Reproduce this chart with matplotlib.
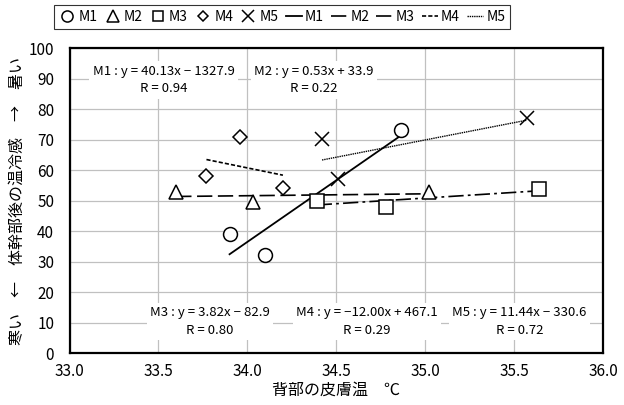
import matplotlib

matplotlib.use("Agg")
import matplotlib.pyplot as plt
import numpy as np

plt.rcParams["font.family"] = ["Noto Sans CJK JP", "DejaVu Sans"]
plt.rcParams["lines.scale_dashes"] = False

# measured data (skin temperature of the back vs. thermal sensation)
m1_x = [33.90, 34.10, 34.865]
m1_y = [39.1, 32.2, 73.2]
m2_x = [33.60, 34.03, 35.02]
m2_y = [52.8, 49.7, 52.9]
m3_x = [34.39, 34.78, 35.64]
m3_y = [50.0, 48.1, 53.9]
m4_x = [33.77, 33.96, 34.20]
m4_y = [58.1, 71.0, 54.1]
m5_x = [34.42, 34.51, 35.57]
m5_y = [70.2, 57.0, 77.0]

names = ["M1", "M2", "M3", "M4", "M5"]
equations = [
    "M1 : y = 40.13x − 1327.9\nR = 0.94",
    "M2 : y = 0.53x + 33.9\nR = 0.22",
    "M3 : y = 3.82x − 82.9\nR = 0.80",
    "M4 : y = −12.00x + 467.1\nR = 0.29",
    "M5 : y = 11.44x − 330.6\nR = 0.72",
]
eq_pos = [(33.53, 89.6), (34.375, 89.6), (33.79, 10.5), (34.673, 10.5), (35.53, 10.5)]

xs = [m1_x, m2_x, m3_x, m4_x, m5_x]
ys = [m1_y, m2_y, m3_y, m4_y, m5_y]
markers = [("o", 10), ("^", 10), ("s", 9.5), ("D", 7), ("x", 10)]
trend_styles = [
    ("-", 1.3),
    ((0, (11, 4)), 1.2),
    ((0, (11, 3, 2, 3)), 1.2),
    ((0, (3, 1.5)), 1.2),
    ((0, (1, 0.6)), 1.0),
]

fig = plt.figure(figsize=(6.24, 4.05), dpi=100)
ax = fig.add_axes([0.1114, 0.1277, 0.855, 0.753])

handles = []
for name, x, y, (m, ms) in zip(names, xs, ys, markers):
    h, = ax.plot(x, y, linestyle="none", marker=m, markersize=ms,
                 markerfacecolor="white", markeredgecolor="black",
                 markeredgewidth=1.1, label=name, zorder=4)
    handles.append(h)

for name, x, y, (ls, lw) in zip(names, xs, ys, trend_styles):
    k, b = np.polyfit(x, y, 1)
    xx = np.array([min(x), max(x)])
    h, = ax.plot(xx, k * xx + b, color="black", linestyle=ls, linewidth=lw,
                 label=name, zorder=3)
    handles.append(h)

for txt, (tx, ty) in zip(equations, eq_pos):
    ax.text(tx, ty, txt, ha="center", va="center", fontsize=9.5,
            linespacing=1.45, multialignment="center", zorder=5,
            bbox=dict(facecolor="white", edgecolor="none", pad=2.5))

ax.set_xlim(33.0, 36.0)
ax.set_ylim(0, 100)
ax.set_xticks(np.arange(33.0, 36.01, 0.5))
ax.set_xticklabels([f"{v:.1f}" for v in np.arange(33.0, 36.01, 0.5)])
ax.set_yticks(np.arange(0, 101, 10))
ax.tick_params(length=0, labelsize=11)
ax.tick_params(axis="x", pad=7)
ax.tick_params(axis="y", pad=11)
ax.grid(True, color="#c0c0c0", linewidth=0.9)
ax.set_axisbelow(True)
for sp in ax.spines.values():
    sp.set_linewidth(1.6)
    sp.set_color("black")

ax.set_xlabel("背部の皮膚温　℃", fontsize=11.5, labelpad=1)
ax.set_ylabel("寒い　←　体幹部後の温冷感　→　暑い", fontsize=11.5, labelpad=2)

leg = fig.legend(handles=handles, loc="center", bbox_to_anchor=(0.452, 0.958),
                 ncol=10, fontsize=10, frameon=True, fancybox=False,
                 handlelength=1.2, handletextpad=0.2, columnspacing=0.5,
                 borderpad=0.35, markerscale=0.8)
leg.get_frame().set_edgecolor("black")
leg.get_frame().set_linewidth(0.8)

fig.savefig("out.png", dpi=100)
